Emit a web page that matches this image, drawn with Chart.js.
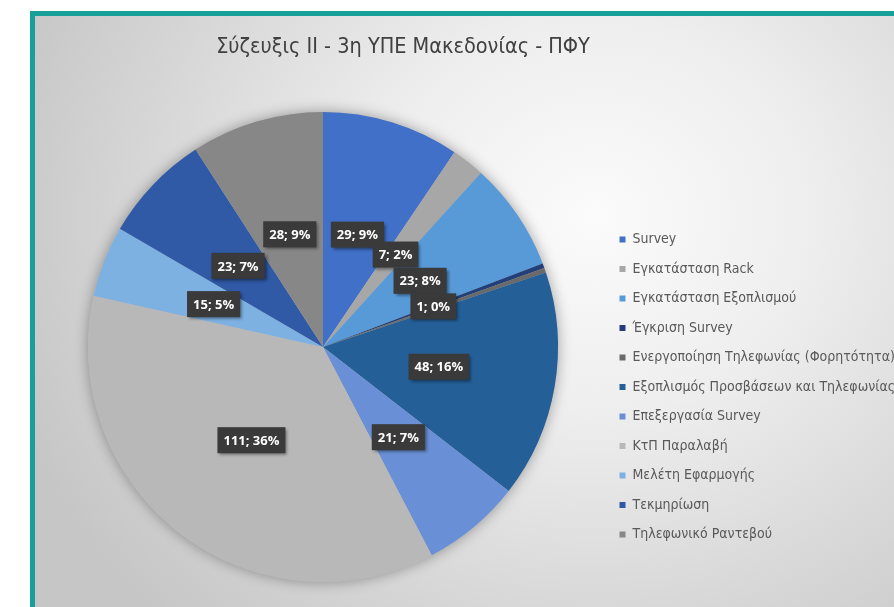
<!DOCTYPE html>
<html>
<head>
<meta charset="utf-8">
<script src="https://cdn.jsdelivr.net/npm/chart.js@4/dist/chart.umd.min.js"></script>
<style>
  html, body { margin: 0; padding: 0; background: #ffffff; width: 894px; height: 607px; overflow: hidden; }
  #frame {
    position: absolute; left: 30px; top: 11px; width: 880px; height: 610px;
    border-left: 5px solid #17a09a; border-top: 5px solid #17a09a;
    background: radial-gradient(ellipse 620px 560px at 560px 200px, #fbfbfb 0%, #eeeeee 35%, #d8d8d8 70%, #c6c6c6 100%);
  }
  #c { position: absolute; left: 0; top: 0; }
</style>
</head>
<body>
<div id="frame"></div>
<canvas id="c" width="894" height="607"></canvas>
<script>
const categories = [
  'Survey',
  'Εγκατάσταση Rack',
  'Εγκατάσταση Εξοπλισμού',
  'Έγκριση Survey',
  'Ενεργοποίηση Τηλεφωνίας (Φορητότητα)',
  'Εξοπλισμός Προσβάσεων και Τηλεφωνίας',
  'Επεξεργασία Survey',
  'ΚτΠ Παραλαβή',
  'Μελέτη Εφαρμογής',
  'Τεκμηρίωση',
  'Τηλεφωνικό Ραντεβού'
];
const values = [29, 7, 23, 1, 1, 48, 21, 111, 15, 23, 28];
const percentLabels = [9, 2, 8, 0, null, 16, 7, 36, 5, 7, 9];
const sliceColors = ['#4170c8', '#a7a7a7', '#589ad8', '#223f7a', '#6a6a6a', '#245f98', '#6990d6', '#b8b8b8', '#7db1e2', '#3059a6', '#878787'];
const titleText = 'Σύζευξις ΙΙ - 3η ΥΠΕ Μακεδονίας - ΠΦΥ';

const narrow = "'DejaVu Sans Condensed', 'Open Sans', sans-serif";

const titleCenter = {
  id: 'titleCenter',
  afterLayout(chart) {
    const t = chart.titleBlock;
    if (!t) return;
    t.left = 0;
    t.right = 806;
    t.width = 806;
  }
};

const pieShadow = {
  id: 'pieShadow',
  beforeDatasetsDraw(chart) {
    const arc = chart.getDatasetMeta(0).data[0];
    if (!arc) return;
    const ctx = chart.ctx;
    ctx.save();
    ctx.shadowColor = 'rgba(0,0,0,0.35)';
    ctx.shadowBlur = 14;
    ctx.fillStyle = '#b8b8b8';
    ctx.beginPath();
    ctx.arc(arc.x, arc.y, arc.outerRadius, 0, Math.PI * 2);
    ctx.fill();
    ctx.restore();
  }
};

const boxLabels = {
  id: 'boxLabels',
  afterDatasetsDraw(chart) {
    const ctx = chart.ctx;
    const meta = chart.getDatasetMeta(0);
    ctx.save();
    ctx.font = "bold 13px 'Open Sans', 'DejaVu Sans', sans-serif";
    ctx.textAlign = 'center';
    ctx.textBaseline = 'middle';
    meta.data.forEach((arc, i) => {
      if (percentLabels[i] === null) return;
      const p = arc.tooltipPosition();
      const txt = values[i] + '; ' + percentLabels[i] + '%';
      const w = ctx.measureText(txt).width + 12;
      const h = 26;
      ctx.save();
      ctx.shadowColor = 'rgba(0,0,0,0.45)';
      ctx.shadowBlur = 3;
      ctx.shadowOffsetX = 2;
      ctx.shadowOffsetY = 2;
      ctx.fillStyle = '#3a3a3a';
      ctx.fillRect(p.x - w / 2, p.y - h / 2, w, h);
      ctx.restore();
      ctx.fillStyle = '#ffffff';
      ctx.fillText(txt, p.x, p.y + 1);
    });
    ctx.restore();
  }
};

new Chart(document.getElementById('c'), {
  type: 'pie',
  data: {
    labels: categories,
    datasets: [{
      data: values,
      backgroundColor: sliceColors,
      borderWidth: 0
    }]
  },
  options: {
    responsive: false,
    animation: false,
    layout: { padding: { left: 42, right: 0, top: 0, bottom: 25 } },
    plugins: {
      tooltip: { enabled: false },
      title: {
        display: true,
        text: titleText,
        color: '#404040',
        font: { family: narrow, size: 21.5, weight: 'normal', lineHeight: 1.2 },
        padding: { top: 35, bottom: 51.2 }
      },
      legend: {
        position: 'right',
        fullSize: false,
        align: 'start',
        maxWidth: 290,
        title: { display: true, text: ' ', font: { size: 12, lineHeight: 1.2 }, padding: { top: 90.6, bottom: 0 } },
        labels: {
          boxWidth: 6,
          boxHeight: 6,
          padding: 15.5,
          color: '#595959',
          font: { family: narrow, size: 14 }
        }
      }
    }
  },
  plugins: [titleCenter, pieShadow, boxLabels]
});
</script>
</body>
</html>
